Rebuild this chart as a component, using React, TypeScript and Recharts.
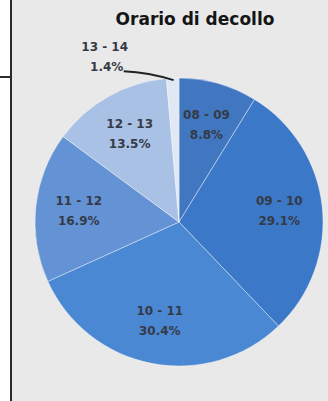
import React from "react";
import { PieChart, Pie, Cell } from "recharts";

const title = "Orario di decollo";
const categories = ["08 - 09", "09 - 10", "10 - 11", "11 - 12", "12 - 13", "13 - 14"];
const shares = [8.8, 29.1, 30.4, 16.9, 13.5, 1.4];
const colors = ["#4177c0", "#3b78c8", "#4a88d3", "#6393d4", "#a9c1e5", "#e0e8f4"];

const data = categories.map((c, i) => ({ name: c, value: shares[i] }));

const RAD = Math.PI / 180;

const renderLabel = (props: any) => {
  const { cx, cy, midAngle, outerRadius, index, value, name } = props;
  const textStyle = {
    fontFamily: "'DejaVu Sans', sans-serif",
    fontSize: 12,
    fontWeight: 700,
    fill: "#353a47",
  } as const;
  if (value < 3) {
    const ex = cx + outerRadius * Math.cos(-midAngle * RAD);
    const ey = cy + outerRadius * Math.sin(-midAngle * RAD);
    const sx = ex - 49;
    const sy = ey - 7;
    const tx = ex - 68;
    return (
      <g key={`lbl-${index}`}>
        <path
          d={`M${sx},${sy} Q${ex - 24},${ey - 6} ${ex + 1},${ey + 2}`}
          stroke="#222"
          strokeWidth={2}
          fill="none"
        />
        <text x={tx} y={ey - 31} textAnchor="middle" dominantBaseline="central" {...textStyle}>
          {name}
        </text>
        <text x={tx + 2} y={ey - 11} textAnchor="middle" dominantBaseline="central" {...textStyle}>
          {`${value.toFixed(1)}%`}
        </text>
      </g>
    );
  }
  const r = outerRadius * 0.7;
  const x = cx + r * Math.cos(-midAngle * RAD);
  const y = cy + r * Math.sin(-midAngle * RAD);
  return (
    <g key={`lbl-${index}`}>
      <text x={x} y={y - 10} textAnchor="middle" dominantBaseline="central" {...textStyle}>
        {name}
      </text>
      <text x={x} y={y + 10} textAnchor="middle" dominantBaseline="central" {...textStyle}>
        {`${value.toFixed(1)}%`}
      </text>
    </g>
  );
};

export default function App() {
  return (
    <div
      style={{
        position: "absolute",
        left: 0,
        top: 0,
        width: 328,
        height: 401,
        background: "#e9e9e9",
        overflow: "hidden",
      }}
    >
      <div style={{ position: "absolute", left: 0, top: 0, width: 10, height: 401, background: "#ffffff" }} />
      <div style={{ position: "absolute", left: 10, top: 0, width: 2, height: 401, background: "#2a2a2a" }} />
      <div style={{ position: "absolute", left: 0, top: 76, width: 11, height: 2, background: "#2a2a2a" }} />
      <div
        style={{
          position: "absolute",
          left: 95,
          top: 8,
          width: 200,
          textAlign: "center",
          fontFamily: "'DejaVu Sans', sans-serif",
          fontWeight: 700,
          fontSize: 17,
          color: "#151515",
          lineHeight: "22px",
        }}
      >
        {title}
      </div>
      <div style={{ position: "absolute", left: 0, top: 0 }}>
        <PieChart width={328} height={401} margin={{ top: 0, right: 0, bottom: 0, left: 0 }}>
          <Pie
            data={data}
            dataKey="value"
            nameKey="name"
            cx={179}
            cy={222}
            outerRadius={144}
            startAngle={90}
            endAngle={-270}
            stroke="rgba(255,255,255,0.4)"
            strokeWidth={1}
            label={renderLabel}
            labelLine={false}
            isAnimationActive={false}
          >
            {data.map((d, i) => (
              <Cell key={d.name} fill={colors[i]} />
            ))}
          </Pie>
        </PieChart>
      </div>
    </div>
  );
}
